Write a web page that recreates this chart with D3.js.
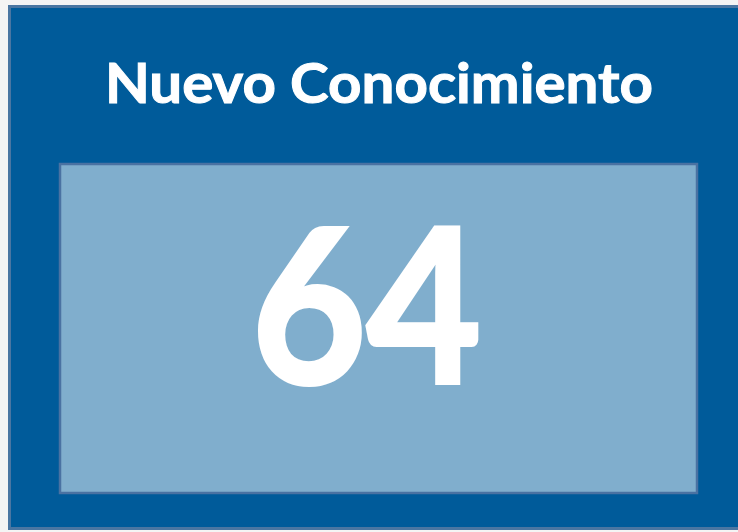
<!DOCTYPE html>
<meta charset="utf-8">
<style>
  body { margin: 0; background: #f4f4f4; }
</style>
<script src="https://d3js.org/d3.v7.min.js"></script>
<div id="card"></div>
<script>
  // KPI card values
  var labels = ["Nuevo Conocimiento"];
  var values = [64];

  var width = 738, height = 532;

  var svg = d3.select("#card")
    .append("svg")
      .attr("width", width)
      .attr("height", height);

  // outer card
  svg.append("rect")
    .attr("x", 9.5).attr("y", 6.5)
    .attr("width", 740).attr("height", 522)
    .style("fill", "#005b9a")
    .style("stroke", "#4a76a2")
    .style("stroke-width", 3);

  // title
  svg.selectAll(".title")
    .data(labels)
    .enter()
    .append("text")
      .attr("class", "title")
      .attr("x", 379)
      .attr("y", 103)
      .attr("text-anchor", "middle")
      .attr("textLength", 548)
      .attr("lengthAdjust", "spacingAndGlyphs")
      .style("font-family", "Lato, 'Noto Sans', sans-serif")
      .style("font-weight", "bold")
      .style("font-size", "55px")
      .style("fill", "white")
      .style("stroke", "white")
      .style("stroke-width", 1)
      .text(function(d) { return d; });

  // inner value box
  svg.append("rect")
    .attr("x", 60).attr("y", 164)
    .attr("width", 637).attr("height", 329)
    .style("fill", "#80aecd")
    .style("stroke", "#4a72a2")
    .style("stroke-width", 2.5);

  svg.selectAll(".value")
    .data(values)
    .enter()
    .append("text")
      .attr("class", "value")
      .attr("x", 366.5)
      .attr("y", 383)
      .attr("text-anchor", "middle")
      .attr("textLength", 230)
      .attr("lengthAdjust", "spacingAndGlyphs")
      .style("font-family", "Lato, 'Noto Sans', sans-serif")
      .style("font-weight", "bold")
      .style("font-size", "215px")
      .style("fill", "white")
      .style("stroke", "white")
      .style("stroke-width", 4)
      .style("stroke-linejoin", "miter")
      .text(function(d) { return d; });
</script>
